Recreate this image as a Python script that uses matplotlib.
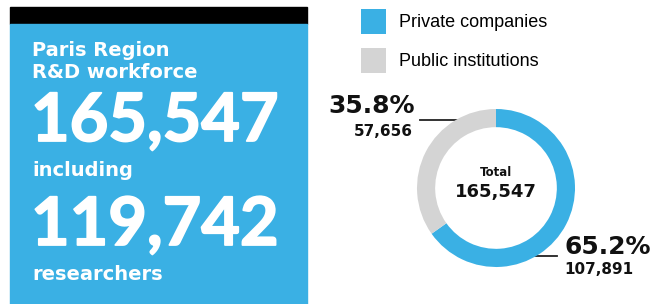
import matplotlib
matplotlib.use("Agg")
import matplotlib.pyplot as plt
import matplotlib.patheffects as pe
from matplotlib.patches import Rectangle

# data
labels = ["Private companies", "Public institutions"]
values = [107891, 57656]
pct_labels = ["65.2%", "35.8%"]
count_labels = ["107,891", "57,656"]
total = "165,547"
researchers = "119,742"

blue = "#3AB0E4"
grey = "#D4D4D4"
txt = "DejaVu Sans"
big = "Lato"
thick = [pe.withStroke(linewidth=1.3, foreground="white")]

fig = plt.figure(figsize=(6.61, 3.04), dpi=100)

# overlay in pixel coordinates
ov = fig.add_axes([0, 0, 1, 1])
ov.set_xlim(0, 661)
ov.set_ylim(304, 0)
ov.axis("off")

# left panel
ov.add_patch(Rectangle((10, 7), 297, 17, color="black"))
ov.add_patch(Rectangle((10, 24), 297, 290, color=blue))
ov.text(32, 50, "Paris Region", color="white", fontsize=14, fontweight="bold",
        family=txt, va="center")
ov.text(32, 72, "R&D workforce", color="white", fontsize=14, fontweight="bold",
        family=txt, va="center")
ov.text(31, 122, total, color="white", fontsize=48, fontweight="bold",
        family=big, va="center", path_effects=thick)
ov.text(32, 171, "including", color="white", fontsize=14, fontweight="bold",
        family=txt, va="center")
ov.text(31, 226, researchers, color="white", fontsize=48, fontweight="bold",
        family=big, va="center", path_effects=thick)
ov.text(32, 275, "researchers", color="white", fontsize=14, fontweight="bold",
        family=txt, va="center")

# donut
cx, cy, r = 496, 188, 79
ax = fig.add_axes([(cx - r) / 661, (304 - cy - r) / 304, 2 * r / 661, 2 * r / 304])
wedges, _ = ax.pie(values, colors=[blue, grey], startangle=90, counterclock=False,
                   radius=1, wedgeprops=dict(width=0.23, edgecolor="none"))
ax.set_xlim(-1, 1)
ax.set_ylim(-1, 1)
ax.axis("off")

ov.text(cx, 172, "Total", fontsize=8.5, fontweight="bold", family=txt,
        ha="center", va="center", color="#111111")
ov.text(cx, 192, total, fontsize=13, fontweight="bold", family=txt,
        ha="center", va="center", color="#111111")

# leader lines and labels
ov.plot([420, 481], [120, 120], color="#222222", lw=1.3)
ov.plot([496, 557], [256, 256], color="#222222", lw=1.3)
ov.text(415, 106, pct_labels[1], fontsize=18, fontweight="bold", family=txt,
        ha="right", va="center", color="#111111")
ov.text(413, 131, count_labels[1], fontsize=11, fontweight="bold", family=txt,
        ha="right", va="center", color="#111111")
ov.text(564, 247, pct_labels[0], fontsize=18, fontweight="bold", family=txt,
        ha="left", va="center", color="#111111")
ov.text(564, 270, count_labels[0], fontsize=11, fontweight="bold", family=txt,
        ha="left", va="center", color="#111111")

# legend
fig.legend(wedges, labels, loc="upper left", bbox_to_anchor=(348 / 661, 1 + 4 / 304),
           frameon=False, prop={"family": "Liberation Sans", "size": 13},
           handlelength=1.4, handleheight=1.75, handletextpad=0.75, labelspacing=0.78,
           borderpad=0.2)

fig.savefig("out.png", dpi=100)
